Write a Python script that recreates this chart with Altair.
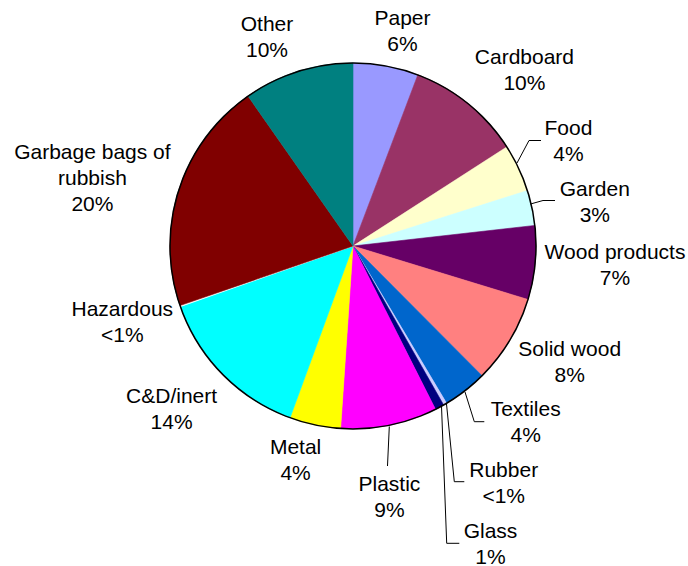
import math
import altair as alt
import pandas as pd

# ---- data ----
categories = ["Paper", "Cardboard", "Food", "Garden", "Wood products", "Solid wood",
              "Textiles", "Rubber", "Glass", "Plastic", "Metal", "C&D/inert",
              "Hazardous", "Garbage bags of rubbish", "Other"]
shares = [5.75, 10.1, 4.2, 3.1, 6.5, 7.8, 3.9, 0.3, 0.8, 8.5, 4.5, 14.0, 0.1, 20.5, 9.7]
pct_labels = ["6%", "10%", "4%", "3%", "7%", "8%", "4%", "<1%", "1%", "9%", "4%",
              "14%", "<1%", "20%", "10%"]
label_names = ["Paper", "Cardboard", "Food", "Garden", "Wood products", "Solid wood",
               "Textiles", "Rubber", "Glass", "Plastic", "Metal", "C&D/inert",
               "Hazardous", "Garbage bags of\nrubbish", "Other"]
colors = ["#9999FF", "#993366", "#FFFFCC", "#CCFFFF", "#660066", "#FF8080",
          "#0066CC", "#CCCCFF", "#000080", "#FF00FF", "#FFFF00", "#00FFFF",
          "#FFFFFF", "#800000", "#008080"]

# ---- layout (annotation placement, pixels; y = first text line) ----
W, H = 688, 566
CX, CY, R = 353, 246, 183
label_x = [402.5, 524.4, 568.4, 594.8, 615.0, 569.7, 525.7, 503.7, 490.5, 389.4,
           295.6, 171.6, 122.3, 92.4, 267.0]
label_y = [19.0, 58.0, 129.0, 190.0, 253.0, 349.5, 410.0, 471.0, 531.5, 485.0,
           447.5, 397.0, 310.0, 152.5, 24.5]
leaders = [  # x, y, x2, y2
    (517, 163, 529, 140.5), (529, 140.5, 541, 140.5),
    (530.5, 204, 543, 200.5), (543, 200.5, 555, 200.5),
    (465, 392, 474.3, 421.7), (474.3, 421.7, 484.3, 421.7),
    (446.5, 404, 454.3, 481.7), (454.3, 481.7, 464.3, 481.7),
    (441.5, 406, 446.7, 543.3), (446.7, 543.3, 459.3, 543.3),
    (389.3, 426.5, 387.5, 466),
]

df = pd.DataFrame({
    "idx": list(range(len(categories))),
    "category": categories,
    "share": shares,
})
lab = pd.DataFrame({
    "text": [f"{n}\n{p}" for n, p in zip(label_names, pct_labels)],
    "lx": label_x,
    "ly": label_y,
})
lead = pd.DataFrame(leaders, columns=["x", "y", "x2", "y2"])

xs = alt.Scale(domain=[0, W], range=[0, W], nice=False, zero=False)
ys = alt.Scale(domain=[0, H], range=[0, H], nice=False, zero=False)
cscale = alt.Scale(domain=categories, range=colors)

pie = alt.Chart(df).mark_arc(radius=R, strokeWidth=0.6).encode(
    theta=alt.Theta("share:Q", stack=True),
    color=alt.Color("category:N", scale=cscale, legend=None),
    stroke=alt.Stroke("category:N", scale=cscale, legend=None),
    order=alt.Order("idx:Q"),
    x=alt.value(CX),
    y=alt.value(CY),
)

outline = alt.Chart(pd.DataFrame({"a": [0]})).mark_arc(
    radius=R, fillOpacity=0, stroke="black", strokeWidth=1.5
).encode(
    theta=alt.value(0),
    theta2=alt.value(2 * math.pi),
    x=alt.value(CX),
    y=alt.value(CY),
)

rules = alt.Chart(lead).mark_rule(color="black", strokeWidth=1).encode(
    x=alt.X("x:Q", scale=xs, axis=None),
    y=alt.Y("y:Q", scale=ys, axis=None),
    x2="x2:Q",
    y2="y2:Q",
)

texts = alt.Chart(lab).mark_text(
    font="Liberation Sans", fontSize=21, lineBreak="\n", lineHeight=26,
    align="center", baseline="middle", color="black"
).encode(
    x=alt.X("lx:Q", scale=xs, axis=None),
    y=alt.Y("ly:Q", scale=ys, axis=None),
    text="text:N",
)

chart = alt.layer(pie, outline, rules, texts).properties(
    width=W, height=H, autosize="none", padding=0
).configure_view(stroke=None)

chart.save("out.html", embed_options={"renderer": "svg", "actions": False})
